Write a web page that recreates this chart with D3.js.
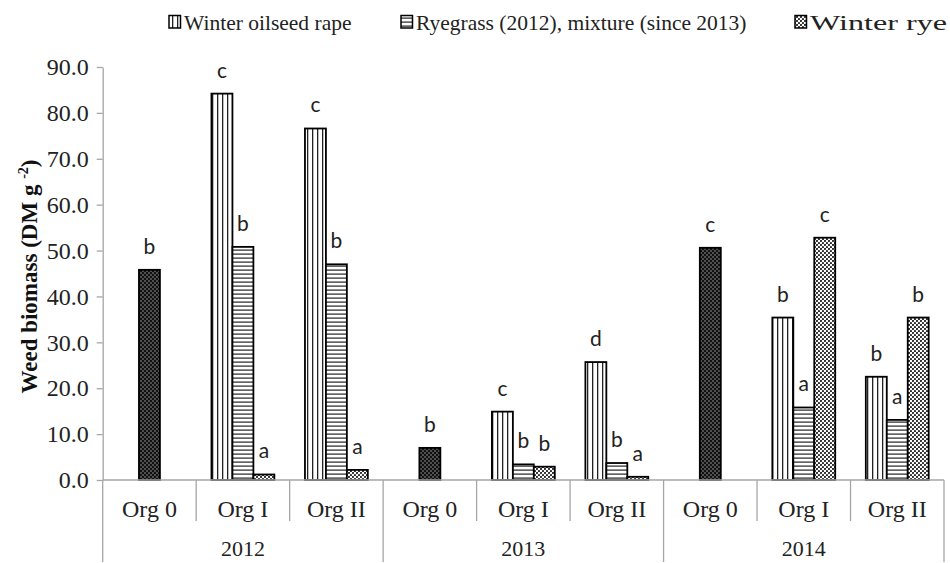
<!DOCTYPE html>
<html>
<head>
<meta charset="utf-8">
<script src="https://cdn.jsdelivr.net/npm/d3@7"></script>
<style>
  body { margin: 0; background: #fff; }
  svg { display: block; }
</style>
</head>
<body>
<svg width="950" height="563"></svg>
<script>
// chart values
const years = ['2012', '2013', '2014'];
const systems = ['Org 0', 'Org I', 'Org II'];

const rapeValues = [null, 84.2, 76.6, null, 14.9, 25.7, null, 35.4, 22.5];
const ryegrassValues = [null, 50.8, 47.0, null, 3.4, 3.7, null, 15.8, 13.1];
const ryeValues = [null, 1.2, 2.2, null, 2.9, 0.7, null, 52.8, 35.4];
const org0Values = [45.8, null, null, 7.0, null, null, 50.6, null, null];

const rapeLetters = ['', 'c', 'c', '', 'c', 'd', '', 'b', 'b'];
const ryegrassLetters = ['', 'b', 'b', '', 'b', 'b', '', 'a', 'a'];
const ryeLetters = ['', 'a', 'a', '', 'b', 'a', '', 'c', 'b'];
const org0Letters = ['b', '', '', 'b', '', '', 'c', '', ''];

const legendNames = ['Winter oilseed rape', 'Ryegrass (2012), mixture (since 2013)', 'Winter rye'];
const yTicks = [0, 10, 20, 30, 40, 50, 60, 70, 80, 90];

const svg = d3.select('svg');
const plotLeft = 102.7, plotRight = 944, plotTop = 67, plotBottom = 480;
const axisColor = '#a6a6a6';

// patterns used by Excel fills
const defs = svg.append('defs');
const vert = defs.append('pattern').attr('id', 'vert').attr('patternUnits', 'userSpaceOnUse')
  .attr('width', 5).attr('height', 5);
vert.append('rect').attr('width', 5).attr('height', 5).attr('fill', '#fff');
vert.append('rect').attr('x', 2).attr('width', 1.3).attr('height', 5).attr('fill', '#222');

const horiz = defs.append('pattern').attr('id', 'horiz').attr('patternUnits', 'userSpaceOnUse')
  .attr('width', 4).attr('height', 4);
horiz.append('rect').attr('width', 4).attr('height', 4).attr('fill', '#fff');
horiz.append('rect').attr('y', 1.5).attr('width', 4).attr('height', 1.2).attr('fill', '#222');

const dots = defs.append('pattern').attr('id', 'dots').attr('patternUnits', 'userSpaceOnUse')
  .attr('width', 4).attr('height', 4);
dots.append('rect').attr('width', 4).attr('height', 4).attr('fill', '#fff');
dots.append('circle').attr('cx', 1).attr('cy', 1).attr('r', 1.1).attr('fill', '#222');
dots.append('circle').attr('cx', 3).attr('cy', 3).attr('r', 1.1).attr('fill', '#222');

const dark = defs.append('pattern').attr('id', 'dark').attr('patternUnits', 'userSpaceOnUse')
  .attr('width', 4).attr('height', 4);
dark.append('rect').attr('width', 4).attr('height', 4).attr('fill', '#111');
dark.append('circle').attr('cx', 1).attr('cy', 1).attr('r', 0.7).attr('fill', '#bbb');
dark.append('circle').attr('cx', 3).attr('cy', 3).attr('r', 0.7).attr('fill', '#bbb');

// series: which slot in the cluster, which fill
const series = [
  { values: rapeValues, letters: rapeLetters, slot: 0, fill: 'url(#vert)' },
  { values: ryegrassValues, letters: ryegrassLetters, slot: 1, fill: 'url(#horiz)' },
  { values: ryeValues, letters: ryeLetters, slot: 2, fill: 'url(#dots)' },
  { values: org0Values, letters: org0Letters, slot: 1, fill: 'url(#dark)' }
];

const cats = d3.range(9);
const x0 = d3.scaleBand().domain(cats).range([plotLeft, plotRight]).padding(0);
const x1 = d3.scaleBand().domain([0, 1, 2]).range([0, x0.bandwidth()]).paddingInner(0).paddingOuter(0.73);
const y = d3.scaleLinear().domain([0, 90]).range([plotBottom, plotTop]);

// y axis
const yAxis = svg.append('g').attr('transform', `translate(${plotLeft},0)`)
  .call(d3.axisLeft(y).tickValues(yTicks).tickFormat(d3.format('.1f')).tickSize(6).tickSizeOuter(0));
yAxis.select('.domain').attr('stroke', axisColor).attr('stroke-width', 1.3);
yAxis.selectAll('.tick line').attr('stroke', axisColor).attr('stroke-width', 1.3);
yAxis.selectAll('.tick text')
  .attr('x', -14)
  .attr('font-family', '"Liberation Serif", "Times New Roman", serif')
  .attr('font-size', 24).attr('fill', '#222');

svg.append('text')
  .attr('transform', `translate(37,${(plotTop + plotBottom) / 2 + 3}) rotate(-90)`)
  .attr('text-anchor', 'middle')
  .attr('font-family', '"Liberation Serif", "Times New Roman", serif')
  .attr('font-weight', 'bold').attr('font-size', 23).attr('fill', '#111')
  .call(t => {
    t.append('tspan').text('Weed biomass (DM g ');
    t.append('tspan').attr('font-size', 14).attr('dy', -9).text('-2');
    t.append('tspan').attr('dy', 9).text(')');
  });

// bars
series.forEach(s => {
  const pts = cats.filter(i => s.values[i] != null);
  svg.append('g').selectAll('rect').data(pts).join('rect')
    .attr('x', i => x0(i) + x1(s.slot))
    .attr('y', i => y(s.values[i]))
    .attr('width', x1.bandwidth())
    .attr('height', i => y(0) - y(s.values[i]))
    .attr('fill', s.fill)
    .attr('stroke', '#000').attr('stroke-width', 1.8);
  svg.append('g').selectAll('text').data(pts).join('text')
    .attr('x', i => x0(i) + x1(s.slot) + x1.bandwidth() / 2)
    .attr('y', i => y(s.values[i]) - 16)
    .attr('text-anchor', 'middle')
    .attr('font-family', 'Lato, "Open Sans", sans-serif')
    .attr('font-size', 21).attr('fill', '#222')
    .text(i => s.letters[i]);
});

// category axis with two levels
const xAxis = svg.append('g');
xAxis.append('line').attr('x1', plotLeft).attr('x2', plotRight).attr('y1', plotBottom).attr('y2', plotBottom)
  .attr('stroke', axisColor).attr('stroke-width', 1.3);
d3.range(10).forEach(i => {
  const xx = i < 9 ? x0(i) : plotRight;
  const long = i % 3 === 0;
  xAxis.append('line').attr('x1', xx).attr('x2', xx).attr('y1', plotBottom).attr('y2', long ? 562 : 521)
    .attr('stroke', axisColor).attr('stroke-width', 1.3);
});
xAxis.selectAll('text.sys').data(cats).join('text').attr('class', 'sys')
  .attr('x', i => x0(i) + x0.bandwidth() / 2).attr('y', 517)
  .attr('text-anchor', 'middle')
  .attr('font-family', '"Liberation Serif", "Times New Roman", serif')
  .attr('font-size', 24).attr('fill', '#222')
  .text(i => systems[i % 3]);
xAxis.selectAll('text.yr').data(years).join('text').attr('class', 'yr')
  .attr('x', (d, j) => x0(j * 3) + x0.bandwidth() * 1.5).attr('y', 556)
  .attr('text-anchor', 'middle')
  .attr('font-family', '"Liberation Serif", "Times New Roman", serif')
  .attr('font-size', 22).attr('fill', '#222')
  .text(d => d);

// legend (the last entry is drawn wider in the original)
const legendX = [169, 401, 795];
const legendFill = ['url(#vert)', 'url(#horiz)', 'url(#dots)'];
const legend = svg.append('g');
legendNames.forEach((name, i) => {
  legend.append('rect').attr('x', legendX[i]).attr('y', 15.5).attr('width', 11.5).attr('height', 12.5)
    .attr('fill', legendFill[i]).attr('stroke', '#000').attr('stroke-width', 1.5);
  const t = legend.append('text').attr('x', legendX[i] + 15).attr('y', 30)
    .attr('font-family', '"Liberation Serif", "Times New Roman", serif')
    .attr('font-size', 21.5).attr('fill', '#222')
    .text(name);
  if (i === 2) t.attr('textLength', 137).attr('lengthAdjust', 'spacingAndGlyphs');
});
</script>
</body>
</html>
